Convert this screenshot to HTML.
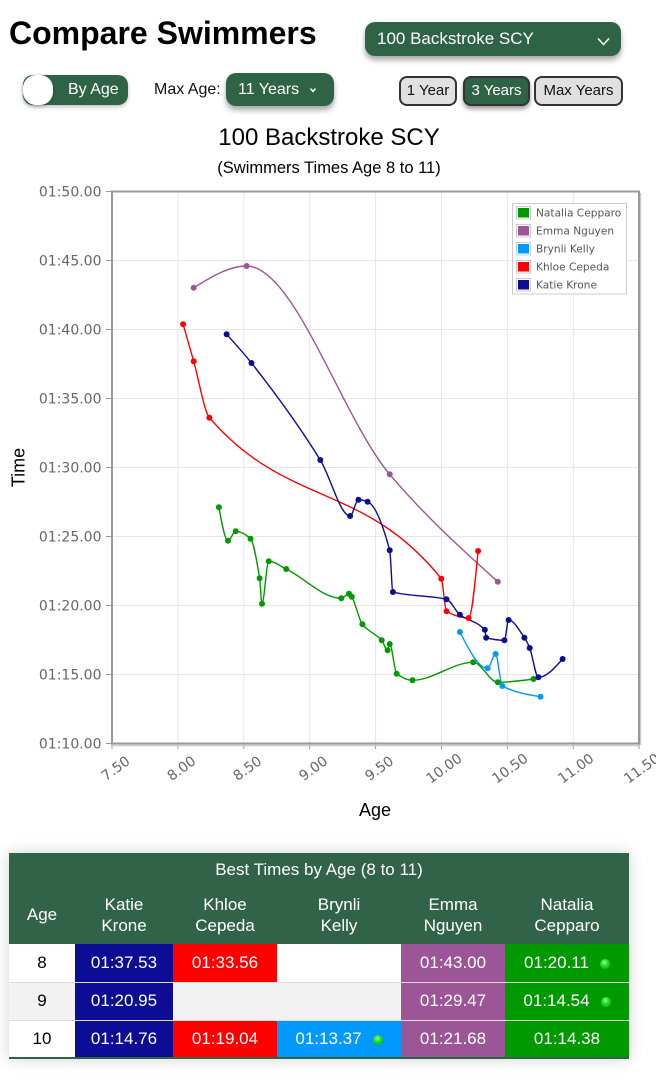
<!DOCTYPE html>
<html><head><meta charset="utf-8"><style>
*{margin:0;padding:0;box-sizing:border-box}
html,body{width:656px;height:1080px;background:#fff;overflow:hidden;font-family:"Liberation Sans",Arial,sans-serif}
.abs{position:absolute}
.green{background:#2e6346}
.h1{left:9px;top:13px;font-size:32px;font-weight:bold;color:#000;line-height:40px;letter-spacing:0}
.dd{left:365px;top:22px;width:256px;height:34px;border-radius:10px;box-shadow:0 4px 6px rgba(0,0,0,.35);color:#fff;font-size:17px;line-height:34px;padding-left:12px}
.tog{left:23px;top:75px;width:105px;height:30px;border-radius:10px;color:#fff;font-size:16px;line-height:30px;box-shadow:0 2px 4px rgba(0,0,0,.25)}
.knob{left:0;top:0;width:30px;height:30px;border-radius:13px;background:#fff;box-shadow:0 1px 3px rgba(0,0,0,.3)}
.lbl{left:154px;top:80px;font-size:16px;color:#111;line-height:20px}
.dd2{left:226px;top:73px;width:108px;height:33px;border-radius:10px;box-shadow:0 4px 6px rgba(0,0,0,.35);color:#fff;font-size:16px;line-height:33px;padding-left:12px}
.btn{top:76px;height:30px;border:2px solid #333;border-radius:8px;background:#e0e0e0;color:#111;font-size:15px;line-height:26px;text-align:center}
.btn.on{background:#2e6346;color:#fff;box-shadow:0 3px 5px rgba(0,0,0,.4)}
table{position:absolute;left:9px;top:853px;width:620px;border-collapse:collapse;table-layout:fixed;font-size:17px;box-shadow:0 0 14px rgba(0,0,0,.18);border-bottom:2px solid #2e6346}
th{background:#316348;color:#fff;font-weight:normal;text-align:center}
.t1 th{height:34px;line-height:34px;padding-top:0}
.t2 th{height:57px;line-height:20.6px}
td{height:38px;text-align:center;color:#fff;border-bottom:1px solid #ddd;padding:0}
td.a{color:#000;background:#fff}
tr.g td.a, tr.g td.e{background:#f2f2f2}
td.e{background:#fff}
.k{background:#0c0c94}.r{background:#ff0000}.b{background:#0099ff}.m{background:#9c5596}.n{background:#009900}
.dot{display:inline-block;width:10px;height:10px;border-radius:50%;margin-left:11px;vertical-align:-1px;background:radial-gradient(circle at 45% 35%,#9f9 0%,#2d2 40%,#0a0 100%)}
</style></head><body>

<div class="abs h1">Compare Swimmers</div>
<div class="abs dd green">100 Backstroke SCY</div>
<svg class="abs" style="left:0;top:0" width="656" height="110"><polyline points="598,38.5 603.5,44.5 609,38.5" fill="none" stroke="#fff" stroke-width="1.6"/></svg>

<div class="abs tog green"><div class="abs knob"></div><span class="abs" style="left:45px;top:0">By Age</span></div>
<div class="abs lbl">Max Age:</div>
<div class="abs dd2 green">11 Years</div>
<svg class="abs" style="left:0;top:0" width="656" height="110"><polyline points="310.5,88.5 313,91.5 315.5,88.5" fill="none" stroke="#fff" stroke-width="1.4"/></svg>

<div class="abs btn" style="left:399px;width:58px">1 Year</div>
<div class="abs btn on" style="left:463px;width:67px">3 Years</div>
<div class="abs btn" style="left:534px;width:89px">Max Years</div>

<svg class="abs" style="left:0;top:110px" width="656" height="730" viewBox="0 110 656 730">
<text x="329" y="145" font-size="24" text-anchor="middle" fill="#000" font-family="Liberation Sans,Arial,sans-serif">100 Backstroke SCY</text>
<text x="329" y="173" font-size="16.5" text-anchor="middle" fill="#000" font-family="Liberation Sans,Arial,sans-serif">(Swimmers Times Age 8 to 11)</text>

<rect x="112" y="191.5" width="527" height="552" fill="#fff"/>
<g stroke="#e6e6e6" stroke-width="1">
<line x1="177.9" y1="192" x2="177.9" y2="743"/><line x1="243.8" y1="192" x2="243.8" y2="743"/><line x1="309.7" y1="192" x2="309.7" y2="743"/><line x1="375.6" y1="192" x2="375.6" y2="743"/><line x1="441.5" y1="192" x2="441.5" y2="743"/><line x1="507.4" y1="192" x2="507.4" y2="743"/><line x1="573.3" y1="192" x2="573.3" y2="743"/>
<line x1="112" y1="260.5" x2="639" y2="260.5"/><line x1="112" y1="329.5" x2="639" y2="329.5"/><line x1="112" y1="398.5" x2="639" y2="398.5"/><line x1="112" y1="467.5" x2="639" y2="467.5"/><line x1="112" y1="536.5" x2="639" y2="536.5"/><line x1="112" y1="605.5" x2="639" y2="605.5"/><line x1="112" y1="674.5" x2="639" y2="674.5"/>
</g>
<g stroke="#999" stroke-width="1">
<line x1="106" y1="191.5" x2="112" y2="191.5"/><line x1="106" y1="260.5" x2="112" y2="260.5"/><line x1="106" y1="329.5" x2="112" y2="329.5"/><line x1="106" y1="398.5" x2="112" y2="398.5"/><line x1="106" y1="467.5" x2="112" y2="467.5"/><line x1="106" y1="536.5" x2="112" y2="536.5"/><line x1="106" y1="605.5" x2="112" y2="605.5"/><line x1="106" y1="674.5" x2="112" y2="674.5"/><line x1="106" y1="743.5" x2="112" y2="743.5"/>
<line x1="112" y1="744" x2="112" y2="749"/><line x1="177.9" y1="744" x2="177.9" y2="749"/><line x1="243.8" y1="744" x2="243.8" y2="749"/><line x1="309.7" y1="744" x2="309.7" y2="749"/><line x1="375.6" y1="744" x2="375.6" y2="749"/><line x1="441.5" y1="744" x2="441.5" y2="749"/><line x1="507.4" y1="744" x2="507.4" y2="749"/><line x1="573.3" y1="744" x2="573.3" y2="749"/><line x1="639" y1="744" x2="639" y2="749"/>
</g>
<line x1="113" y1="745.5" x2="640" y2="745.5" stroke="#ccc" stroke-width="1.5"/>
<line x1="640.5" y1="193" x2="640.5" y2="745" stroke="#ccc" stroke-width="1.5"/>
<rect x="112" y="191.5" width="527" height="552" fill="none" stroke="#999" stroke-width="2"/>

<g font-family="DejaVu Sans,Verdana,sans-serif" font-size="14" fill="#666" text-anchor="end">
<text x="101.5" y="196.5">01:50.00</text><text x="101.5" y="265.5">01:45.00</text><text x="101.5" y="334.5">01:40.00</text><text x="101.5" y="403.5">01:35.00</text><text x="101.5" y="472.5">01:30.00</text><text x="101.5" y="541.5">01:25.00</text><text x="101.5" y="610.5">01:20.00</text><text x="101.5" y="679.5">01:15.00</text><text x="101.5" y="748.5">01:10.00</text>
</g>
<g font-family="DejaVu Sans,Verdana,sans-serif" font-size="14" fill="#666" text-anchor="middle" dominant-baseline="central">
<text x="116" y="769" transform="rotate(-36 116 769)">7.50</text>
<text x="181.9" y="769" transform="rotate(-36 181.9 769)">8.00</text>
<text x="247.8" y="769" transform="rotate(-36 247.8 769)">8.50</text>
<text x="313.7" y="769" transform="rotate(-36 313.7 769)">9.00</text>
<text x="379.6" y="769" transform="rotate(-36 379.6 769)">9.50</text>
<text x="444.5" y="769" transform="rotate(-36 444.5 769)">10.00</text>
<text x="510.4" y="769" transform="rotate(-36 510.4 769)">10.50</text>
<text x="576.3" y="769" transform="rotate(-36 576.3 769)">11.00</text>
<text x="642.2" y="769" transform="rotate(-36 642.2 769)">11.50</text>
</g>
<text x="375" y="816" font-size="18" text-anchor="middle" fill="#000" font-family="Liberation Sans,Arial,sans-serif">Age</text>
<text x="24.5" y="467.5" font-size="18" text-anchor="middle" fill="#000" font-family="Liberation Sans,Arial,sans-serif" transform="rotate(-90 24.5 467.5)">Time</text>

<g fill="none" stroke-width="1.4">
<path stroke="#009900" d="M218.9,507.3 C221.9,524.0 225.0,540.7 228,540.7 C230.6,540.7 233.1,531.3 235.7,531.3 C240.6,531.3 245.6,534.3 250.5,538.7 C253.5,541.4 256.6,559.6 259.6,578.3 C260.4,583.2 261.2,603.7 262,603.7 C264.2,603.7 266.5,561.3 268.7,561.3 C274.5,561.3 280.4,566.2 286.2,569 C304.6,577.9 322.9,598.3 341.3,598.3 C343.9,598.3 346.4,593.7 349,593.7 C349.9,593.7 350.9,595.3 351.8,596.7 C355.3,602.1 358.9,619.9 362.4,624.3 C368.8,632.4 375.3,633.1 381.7,640.3 C383.7,642.5 385.6,650.3 387.6,650.3 C388.3,650.3 389.0,644 389.7,644 C392.0,644 394.4,671.9 396.7,673.7 C401.9,677.7 407.2,680.3 412.5,680.3 C432.7,680.3 453.0,662.3 473.2,662.3 C481.4,662.3 489.6,682.3 497.8,682.3 C509.7,682.3 521.6,680.7 533.5,679"/>
<path stroke="#9c5596" d="M193.7,287.7 C211.3,276.9 229.0,266 246.6,266 C294.3,266 342.0,418.0 389.7,474.3 C425.7,516.9 461.8,549.2 497.8,581.7"/>
<path stroke="#0099ff" d="M459.9,632 C469.1,650.1 478.4,668.3 487.6,668.3 C490.3,668.3 492.9,654 495.6,654 C497.8,654 500.1,684.8 502.3,686 C515.0,692.7 527.8,694.7 540.5,696.7"/>
<path stroke="#ff0000" d="M183.1,324.3 C186.6,336.6 190.2,348.8 193.7,361.3 C198.9,379.8 204.2,411.6 209.4,417.7 C286.7,507.6 364.0,482.1 441.3,578.7 C443.0,580.9 444.8,610.3 446.5,611.3 C453.9,615.6 461.2,618 468.6,618 C471.8,618 474.9,584.5 478.1,551"/>
<path stroke="#0c0c94" d="M226.6,334.3 C234.9,343.4 243.2,352.5 251.5,363 C274.4,392.1 297.4,423.0 320.3,460 C330.2,476.0 340.2,516 350.1,516 C352.9,516 355.7,499.7 358.5,499.7 C361.5,499.7 364.6,500.5 367.6,501.7 C375.0,504.6 382.3,522.6 389.7,550.3 C390.8,554.3 391.8,591.7 392.9,592 C410.8,596.8 428.6,595.0 446.5,599.3 C451.0,600.4 455.4,611.2 459.9,614.7 C468.2,621.3 476.5,620.7 484.8,629.7 C485.3,629.8 485.7,637.6 486.2,637.7 C492.3,639.4 498.3,640.3 504.4,640.3 C505.8,640.3 507.2,620 508.6,620 C513.9,620 519.1,630.2 524.4,637.7 C526.2,640.2 527.9,643.6 529.7,648 C532.6,655.1 535.5,677.3 538.4,677.3 C546.5,677.3 554.5,668.1 562.6,659"/>
</g>
<g fill="#009900">
<circle cx="218.9" cy="507.3" r="3"/><circle cx="228" cy="540.7" r="3"/><circle cx="235.7" cy="531.3" r="3"/><circle cx="250.5" cy="538.7" r="3"/><circle cx="259.6" cy="578.3" r="3"/><circle cx="262" cy="603.7" r="3"/><circle cx="268.7" cy="561.3" r="3"/><circle cx="286.2" cy="569" r="3"/><circle cx="341.3" cy="598.3" r="3"/><circle cx="349" cy="593.7" r="3"/><circle cx="351.8" cy="596.7" r="3"/><circle cx="362.4" cy="624.3" r="3"/><circle cx="381.7" cy="640.3" r="3"/><circle cx="387.6" cy="650.3" r="3"/><circle cx="389.7" cy="644" r="3"/><circle cx="396.7" cy="673.7" r="3"/><circle cx="412.5" cy="680.3" r="3"/><circle cx="473.2" cy="662.3" r="3"/><circle cx="497.8" cy="682.3" r="3"/><circle cx="533.5" cy="679" r="3"/>
</g>
<g fill="#9c5596">
<circle cx="193.7" cy="287.7" r="3"/><circle cx="246.6" cy="266" r="3"/><circle cx="389.7" cy="474.3" r="3"/><circle cx="497.8" cy="581.7" r="3"/>
</g>
<g fill="#0099ff">
<circle cx="459.9" cy="632" r="3"/><circle cx="487.6" cy="668.3" r="3"/><circle cx="495.6" cy="654" r="3"/><circle cx="502.3" cy="686" r="3"/><circle cx="540.5" cy="696.7" r="3"/>
</g>
<g fill="#ff0000">
<circle cx="183.1" cy="324.3" r="3"/><circle cx="193.7" cy="361.3" r="3"/><circle cx="209.4" cy="417.7" r="3"/><circle cx="441.3" cy="578.7" r="3"/><circle cx="446.5" cy="611.3" r="3"/><circle cx="468.6" cy="618" r="3"/><circle cx="478.1" cy="551" r="3"/>
</g>
<g fill="#0c0c94">
<circle cx="226.6" cy="334.3" r="3"/><circle cx="251.5" cy="363" r="3"/><circle cx="320.3" cy="460" r="3"/><circle cx="350.1" cy="516" r="3"/><circle cx="358.5" cy="499.7" r="3"/><circle cx="367.6" cy="501.7" r="3"/><circle cx="389.7" cy="550.3" r="3"/><circle cx="392.9" cy="592" r="3"/><circle cx="446.5" cy="599.3" r="3"/><circle cx="459.9" cy="614.7" r="3"/><circle cx="484.8" cy="629.7" r="3"/><circle cx="486.2" cy="637.7" r="3"/><circle cx="504.4" cy="640.3" r="3"/><circle cx="508.6" cy="620" r="3"/><circle cx="524.4" cy="637.7" r="3"/><circle cx="529.7" cy="648" r="3"/><circle cx="538.4" cy="677.3" r="3"/><circle cx="562.6" cy="659" r="3"/>
</g>

<rect x="512.5" y="203.5" width="114" height="90.5" fill="#fff" stroke="#ccc" stroke-width="1"/>
<g stroke="#ccc" stroke-width="1" fill="#fff">
<rect x="516.5" y="206.5" width="14" height="12.5"/><rect x="516.5" y="224.5" width="14" height="12.5"/><rect x="516.5" y="242.5" width="14" height="12.5"/><rect x="516.5" y="260.5" width="14" height="12.5"/><rect x="516.5" y="278.5" width="14" height="12.5"/>
</g>
<rect x="518" y="208" width="11" height="9.5" fill="#009900"/>
<rect x="518" y="226" width="11" height="9.5" fill="#9c5596"/>
<rect x="518" y="244" width="11" height="9.5" fill="#0099ff"/>
<rect x="518" y="262" width="11" height="9.5" fill="#ff0000"/>
<rect x="518" y="280" width="11" height="9.5" fill="#0c0c94"/>
<g font-family="DejaVu Sans,Verdana,sans-serif" font-size="10.6" fill="#555">
<text x="536" y="216.5">Natalia Cepparo</text>
<text x="536" y="234.5">Emma Nguyen</text>
<text x="536" y="252.5">Brynli Kelly</text>
<text x="536" y="270.5">Khloe Cepeda</text>
<text x="536" y="288.5">Katie Krone</text>
</g>
</svg>

<table>
<colgroup><col style="width:66px"><col style="width:98px"><col style="width:104px"><col style="width:124px"><col style="width:104px"><col style="width:124px"></colgroup>
<tr class="t1"><th colspan="6">Best Times by Age (8 to 11)</th></tr>
<tr class="t2"><th>Age</th><th>Katie<br>Krone</th><th>Khloe<br>Cepeda</th><th>Brynli<br>Kelly</th><th>Emma<br>Nguyen</th><th>Natalia<br>Cepparo</th></tr>
<tr><td class="a">8</td><td class="k">01:37.53</td><td class="r">01:33.56</td><td class="e"></td><td class="m">01:43.00</td><td class="n">01:20.11<span class="dot"></span></td></tr>
<tr class="g"><td class="a">9</td><td class="k">01:20.95</td><td class="e"></td><td class="e"></td><td class="m">01:29.47</td><td class="n">01:14.54<span class="dot"></span></td></tr>
<tr><td class="a">10</td><td class="k">01:14.76</td><td class="r">01:19.04</td><td class="b">01:13.37<span class="dot"></span></td><td class="m">01:21.68</td><td class="n">01:14.38</td></tr>
</table>
</body></html>
